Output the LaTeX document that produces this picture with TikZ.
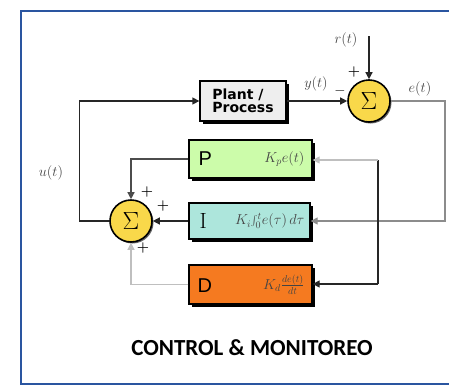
\documentclass[tikz,border=0pt]{standalone}
\usepackage{fontspec}
\newfontfamily\carlito{Carlito}
\newfontfamily\dejavu{DejaVu Sans}
\newfontfamily\arialf{Liberation Sans}
\usetikzlibrary{arrows.meta,shadows,calc}
\definecolor{frameblue}{HTML}{2A55A0}
\definecolor{sumyellow}{HTML}{F9D84A}
\definecolor{plantgray}{HTML}{EEEEEE}
\definecolor{pgreen}{HTML}{CCFCAA}
\definecolor{icyan}{HTML}{ADE6DC}
\definecolor{dorange}{HTML}{F57A20}
\definecolor{lblgray}{HTML}{444444}
\begin{document}
\begin{tikzpicture}[x=1pt,y=-1pt,
  blk/.style={draw=black, line width=1.3pt, inner sep=0pt,
    drop shadow={shadow xshift=3pt, shadow yshift=-3pt, fill=black, opacity=1}},
  sumnode/.style={circle, draw=black, line width=1.6pt, fill=sumyellow, minimum size=42pt, inner sep=0pt,
    drop shadow={shadow xshift=1.5pt, shadow yshift=-1.5pt, fill=black!60, opacity=1},
    font=\fontsize{28}{28}\selectfont},
  conn/.style={line width=1.3pt, draw=black!85},
  lconn/.style={line width=1.3pt, draw=black!25},
  arr/.style={-{Triangle[length=7pt,width=7pt]}},
  lbl/.style={text=lblgray, font=\fontsize{14}{14}\selectfont, inner sep=0pt},
  sgn/.style={text=black, font=\fontsize{14}{14}\selectfont\bfseries, inner sep=0pt},
  letter/.style={font=\arialf\fontsize{20}{20}\selectfont, inner sep=0pt},
  formula/.style={text=lblgray, font=\fontsize{14}{14}\selectfont, inner sep=0pt}
]
\useasboundingbox (0,0) rectangle (449,391);
\draw[frameblue, line width=2.5pt] (21,11) rectangle (470,384);

% blocks
\node[blk, fill=plantgray, minimum width=86pt, minimum height=40pt,
  font=\dejavu\bfseries\fontsize{14}{12.5}\selectfont, align=left] (plant) at (243,101) {Plant /\\Process};
\node[sumnode] (sumT) at (369,101) {$\Sigma$};
\node[sumnode] (sumL) at (131,221) {$\Sigma$};
\node[blk, fill=pgreen, minimum width=123pt, minimum height=38pt] (P) at (250.5,159) {};
\node[blk, fill=icyan, minimum width=121pt, minimum height=36pt] (I) at (249.5,221) {};
\node[blk, fill=dorange, minimum width=123pt, minimum height=39pt] (D) at (250.5,284.5) {};

% block texts
\node[letter, anchor=west] (Pl) at ($(P.west)+(10,0)$) {P};
\node[formula, anchor=east] (Pf) at ($(P.east)+(-8,0)$) {$K_p e(t)$};
\node[font=\fontsize{22}{22}\selectfont, inner sep=0pt, anchor=west] (Il) at ($(I.west)+(11,0)$) {I};
\node[formula, anchor=east] (If) at ($(I.east)+(-6,0)$) {$K_i\!\int_0^t\! e(\tau)\,d\tau$};
\node[letter, anchor=west] (Dl) at ($(D.west)+(9,1)$) {D};
\node[formula, anchor=east] (Df) at ($(D.east)+(-8,0)$) {$K_d\frac{de(t)}{dt}$};

% coordinates
\coordinate (rt) at (369,36);
\coordinate (eR) at (445,101);
\coordinate (jP) at (378,160);
\coordinate (jD) at (378,284);

% connectors
\draw[conn, arr] (rt) -- (sumT.north);
\draw[conn, arr] (plant.east) -- (sumT.west);
\draw[conn, draw=black!45, arr] (sumT.east) -- (eR) |- (I.east);
\draw[conn] (jP) -- (jD);
\draw[lconn, arr] (jP) -- (P.east |- jP);
\draw[conn, arr] (jD) -- (D.east |- jD);
\draw[conn, draw=black!70, arr] (P.west) -| (sumL.north);
\draw[conn, arr] (I.west) -- (sumL.east);
\draw[lconn, arr] (D.west) -| (sumL.south);
\draw[conn, arr] (sumL.west) -- ++(-30,0) |- (plant.west);

% labels
\node[lbl] (rl) at (346,40) {$r(t)$};
\node[lbl] (yl) at (316,84) {$y(t)$};
\node[lbl] (el) at (420,89) {$e(t)$};
\node[lbl] (ul) at (51,173) {$u(t)$};
\node[sgn] (s1) at (354,72) {+};
\node[sgn] (s2) at (340,91) {$-$};
\node[sgn] (s3) at (147,192) {+};
\node[sgn] (s4) at (163,206) {+};
\node[sgn] (s5) at (143,248) {+};

% caption
\node[font=\carlito\bfseries\fontsize{23}{23}\selectfont, inner sep=0pt] (cap) at (252,348) {CONTROL \& MONITOREO};
\end{tikzpicture}
\end{document}
